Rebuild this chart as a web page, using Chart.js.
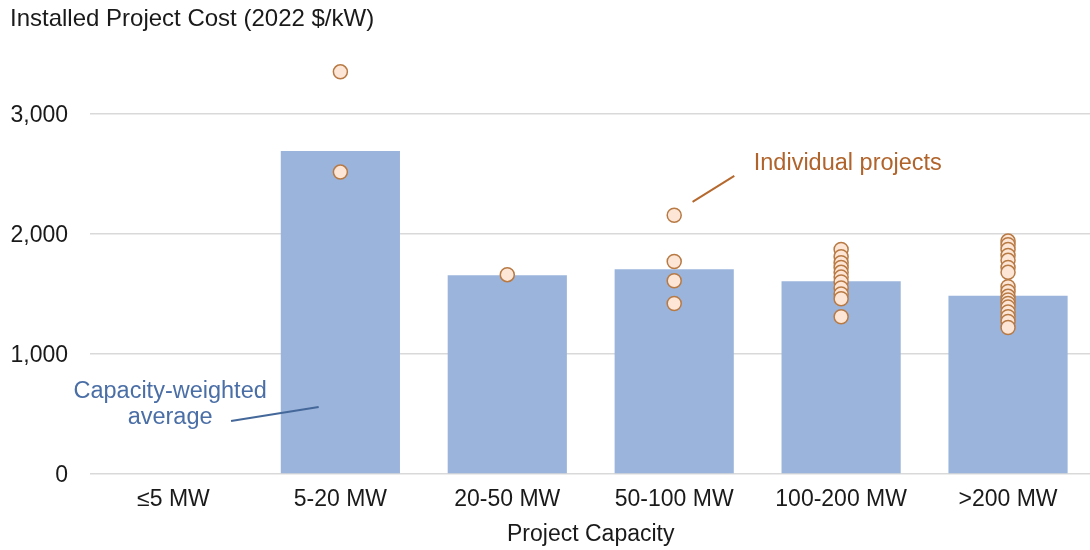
<!DOCTYPE html>
<html>
<head>
<meta charset="utf-8">
<script src="https://cdn.jsdelivr.net/npm/chart.js@4.4.0/dist/chart.umd.min.js"></script>
<style>
  html, body { margin: 0; padding: 0; overflow: hidden; background: #ffffff; }
  #wrap { width: 1100px; height: 550px; }
</style>
</head>
<body>
<div id="wrap"><canvas id="c" width="1100" height="550"></canvas></div>
<script>
// ---- Data ----
const categories = ['≤5 MW', '5-20 MW', '20-50 MW', '50-100 MW', '100-200 MW', '>200 MW'];
const weightedAverage = [null, 2690, 1655, 1705, 1605, 1485];
const projects_5_20 = [3350, 2515];
const projects_20_50 = [1660];
const projects_50_100 = [2155, 1770, 1610, 1420];
const projects_100_200 = [1870, 1810, 1760, 1720, 1680, 1640, 1600, 1550, 1500, 1460, 1310];
const projects_over_200 = [1940, 1910, 1870, 1820, 1780, 1720, 1680, 1560, 1520, 1480, 1450, 1420, 1390, 1350, 1310, 1270, 1220];
const yTicks = [0, 1000, 2000, 3000];
const chartTitle = 'Installed Project Cost (2022 $/kW)';
const xTitle = 'Project Capacity';
const labelProjects = 'Individual projects';
const labelAverage = ['Capacity-weighted', 'average'];

// Build scatter points from the lists
const projectGroups = [[], projects_5_20, projects_20_50, projects_50_100, projects_100_200, projects_over_200];
const projectPoints = [];
projectGroups.forEach((vals, i) => vals.forEach(v => projectPoints.push({ x: categories[i], y: v })));

const FONT = "'Liberation Sans', Arial, sans-serif";

const annotationPlugin = {
  id: 'annot',
  afterDraw(chart) {
    const ctx = chart.ctx;
    const xs = chart.scales.x, ys = chart.scales.y;
    const px = v => xs.getPixelForValue(v);
    const py = v => ys.getPixelForValue(v);
    ctx.save();
    ctx.textAlign = 'center';
    ctx.textBaseline = 'middle';
    // Individual projects
    ctx.strokeStyle = '#b5692e';
    ctx.lineWidth = 2;
    ctx.beginPath();
    ctx.moveTo(px(3.11), py(2267));
    ctx.lineTo(px(3.36), py(2483));
    ctx.stroke();
    ctx.fillStyle = '#b0632a';
    ctx.font = '23.5px ' + FONT;
    ctx.fillText(labelProjects, px(4.04), py(2585));
    // Capacity-weighted average
    ctx.strokeStyle = '#44689a';
    ctx.beginPath();
    ctx.moveTo(px(0.345), py(442));
    ctx.lineTo(px(0.87), py(558));
    ctx.stroke();
    ctx.fillStyle = '#4a6ea6';
    ctx.fillText(labelAverage[0], px(-0.02), py(683));
    ctx.fillText(labelAverage[1], px(-0.02), py(467));
    ctx.restore();
  }
};

new Chart(document.getElementById('c'), {
  type: 'bar',
  data: {
    labels: categories,
    datasets: [
      {
        type: 'line',
        label: 'Individual projects',
        data: projectPoints,
        showLine: false,
        pointRadius: 7,
        pointHoverRadius: 7,
        pointBackgroundColor: '#fde6d5',
        pointBorderColor: '#b87a45',
        pointBorderWidth: 1.5,
        order: 0
      },
      {
        type: 'bar',
        label: 'Capacity-weighted average',
        data: weightedAverage,
        backgroundColor: '#9bb4db',
        borderWidth: 0,
        categoryPercentage: 1.0,
        barPercentage: 0.714,
        order: 1
      }
    ]
  },
  options: {
    responsive: false,
    animation: false,
    events: [],
    layout: { padding: { left: 10, right: 2, top: 0, bottom: 0 } },
    plugins: {
      legend: { display: false },
      tooltip: { enabled: false },
      title: {
        display: true,
        text: chartTitle,
        align: 'start',
        color: '#1a1a1a',
        font: { family: FONT, size: 24, weight: 'normal' },
        padding: { top: 5, bottom: 20 }
      }
    },
    scales: {
      x: {
        grid: { display: false, drawTicks: false },
        border: { display: false },
        ticks: {
          color: '#1a1a1a',
          padding: 12,
          font: { family: FONT, size: 23 }
        },
        title: {
          display: true,
          text: xTitle,
          color: '#1a1a1a',
          font: { family: FONT, size: 23 },
          padding: { top: 0, bottom: 2 }
        },
        afterFit: s => { s.height = 76; }
      },
      y: {
        min: 0,
        max: 3500,
        border: { display: false },
        grid: {
          color: '#d9d9d9',
          lineWidth: 1.5,
          drawTicks: false
        },
        afterBuildTicks: s => { s.ticks = yTicks.map(v => ({ value: v })); },
        ticks: {
          padding: 22,
          labelOffset: 2,
          color: '#1a1a1a',
          font: { family: FONT, size: 23 },
          callback: v => Number(v).toLocaleString('en-US')
        },
        afterFit: s => { s.width = 80; }
      }
    }
  },
  plugins: [annotationPlugin]
});
</script>
</body>
</html>
